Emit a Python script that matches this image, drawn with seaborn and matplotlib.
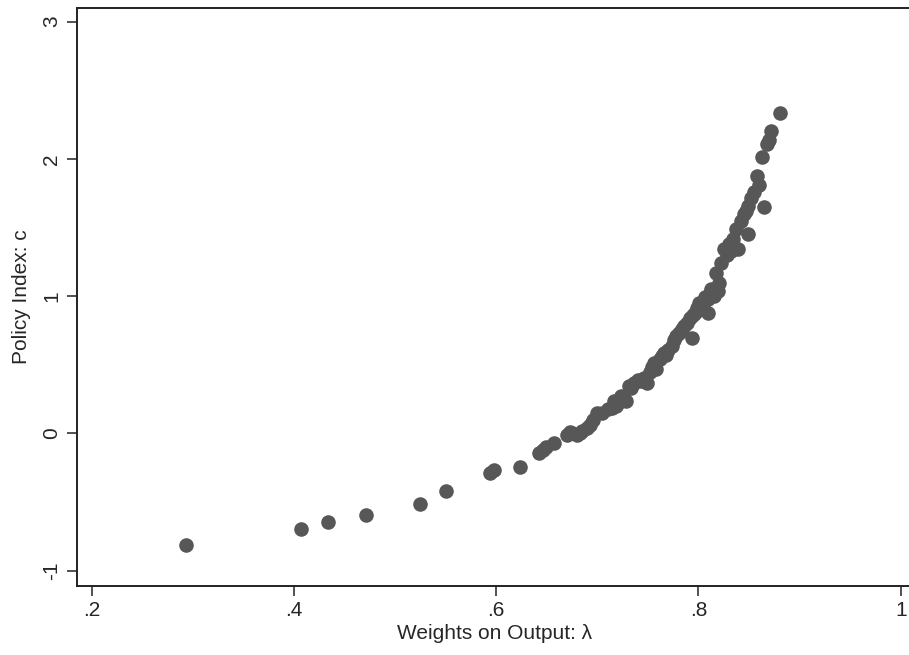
import pandas as pd
import seaborn as sns
import matplotlib
matplotlib.use("Agg")
import matplotlib.pyplot as plt

# valores
peso_producto = [0.293, 0.407, 0.434, 0.471, 0.525, 0.550, 0.594, 0.598, 0.624,
                 0.642, 0.646, 0.649, 0.657, 0.670, 0.673, 0.675, 0.680, 0.683,
                 0.685, 0.690, 0.693, 0.696, 0.700, 0.705, 0.711, 0.715, 0.716,
                 0.718, 0.720, 0.723, 0.726, 0.728, 0.731, 0.733, 0.736, 0.740,
                 0.743, 0.746, 0.749, 0.752, 0.754, 0.756, 0.758, 0.762, 0.764,
                 0.766, 0.768, 0.770, 0.774, 0.776, 0.778, 0.781, 0.784, 0.786,
                 0.789, 0.794, 0.792, 0.795, 0.797, 0.799, 0.801, 0.804, 0.806,
                 0.809, 0.809, 0.811, 0.812, 0.815, 0.819, 0.820, 0.817, 0.822,
                 0.825, 0.828, 0.830, 0.832, 0.834, 0.837, 0.839, 0.842, 0.845,
                 0.847, 0.849, 0.849, 0.852, 0.855, 0.858, 0.860, 0.863, 0.865,
                 0.868, 0.870, 0.872, 0.881]
indice_politica = [-0.816, -0.700, -0.646, -0.595, -0.512, -0.420, -0.290, -0.270, -0.245,
                   -0.140, -0.120, -0.100, -0.068, -0.010, 0.010, 0.000, -0.010, 0.000,
                   0.020, 0.040, 0.060, 0.100, 0.150, 0.151, 0.175, 0.187, 0.235,
                   0.200, 0.220, 0.272, 0.250, 0.235, 0.345, 0.330, 0.370, 0.390,
                   0.380, 0.406, 0.369, 0.450, 0.480, 0.515, 0.466, 0.545, 0.560,
                   0.588, 0.570, 0.610, 0.636, 0.680, 0.709, 0.730, 0.757, 0.780,
                   0.806, 0.697, 0.840, 0.860, 0.879, 0.910, 0.952, 0.930, 0.990,
                   0.976, 0.879, 1.020, 1.049, 1.000, 1.036, 1.098, 1.170, 1.243,
                   1.340, 1.300, 1.380, 1.330, 1.413, 1.486, 1.340, 1.550, 1.595,
                   1.620, 1.655, 1.450, 1.717, 1.760, 1.874, 1.810, 2.015, 1.650,
                   2.105, 2.140, 2.200, 2.336]
ticks_x = [0.2, 0.4, 0.6, 0.8, 1.0]
etiquetas_x = [".2", ".4", ".6", ".8", "1"]
ticks_y = [-1, 0, 1, 2, 3]
etiquetas_y = ["-1", "0", "1", "2", "3"]

df = pd.DataFrame({"lam": peso_producto, "c": indice_politica})

sns.set_style("ticks")
plt.rcParams['font.family'] = ['Liberation Sans', 'DejaVu Sans']

fig = plt.figure(figsize=(9.09, 6.55), dpi=100)
ax = fig.add_axes([0.0844, 0.1053, 0.919, 0.8824])

sns.scatterplot(data=df, x="lam", y="c", color="#575757", s=110,
                linewidth=0, ax=ax)

ax.set_xlim(0.1853, 1.0112)
ax.set_ylim(-1.112, 3.098)
ax.set_xticks(ticks_x)
ax.set_xticklabels(etiquetas_x, fontsize=15)
ax.set_yticks(ticks_y)
ax.set_yticklabels(etiquetas_y, fontsize=15, rotation=90, va="center")
ax.tick_params(direction="out", length=7, width=1.2, color="#333333", pad=4)

for lado in ["top", "right", "left", "bottom"]:
    ax.spines[lado].set_visible(True)
    ax.spines[lado].set_linewidth(1.4)
    ax.spines[lado].set_color("#222222")

ax.set_xlabel("Weights on Output: λ", fontsize=15, labelpad=3)
ax.set_ylabel("Policy Index: c", fontsize=15, labelpad=8)

fig.savefig("out.png", dpi=100)
